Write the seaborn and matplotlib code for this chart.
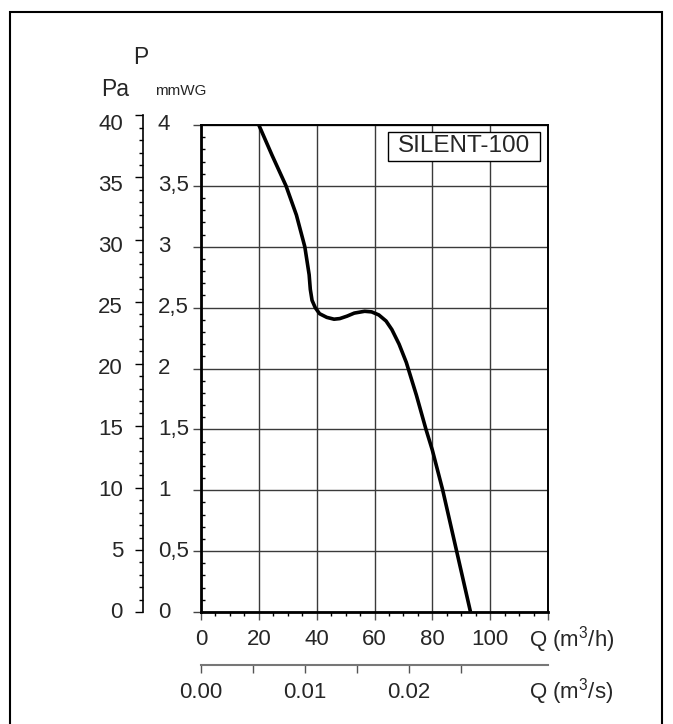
import matplotlib
matplotlib.use("Agg")
import matplotlib.pyplot as plt
import matplotlib.transforms as mtransforms
from matplotlib.patches import Rectangle
from matplotlib.ticker import MultipleLocator, FixedLocator
import pandas as pd
import seaborn as sns

# fan curve: flow in m3/h, pressure in mmWG
flow = [20.0, 24.6, 29.4, 33.0, 35.9, 37.4, 37.8, 38.4, 39.5, 41.0, 43.5, 46.0, 48.0,
        50.5, 53.0, 56.6, 59.0, 61.5, 64.0, 66.0, 68.5, 71.0, 74.5, 77.8, 80.0, 83.6,
        88.4, 93.2]
pressure = [4.00, 3.75, 3.50, 3.26, 3.00, 2.77, 2.65, 2.56, 2.50, 2.45, 2.42, 2.405, 2.41,
            2.43, 2.455, 2.47, 2.465, 2.44, 2.39, 2.32, 2.20, 2.05, 1.78, 1.50, 1.33, 1.00,
            0.50, 0.00]

mmwg_ticks = [0, 0.5, 1, 1.5, 2, 2.5, 3, 3.5, 4]
mmwg_labels = ["0", "0,5", "1", "1,5", "2", "2,5", "3", "3,5", "4"]
pa_labels = ["0", "5", "10", "15", "20", "25", "30", "35", "40"]
q_h_ticks = [0, 20, 40, 60, 80, 100, 120]
q_h_labels = ["0", "20", "40", "60", "80", "100", ""]
q_s_ticks = [0.0, 0.01, 0.02]
q_s_labels = ["0.00", "0.01", "0.02"]
model_name = "SILENT-100"

PA_PER_MMWG = 9.80665
FS = 16

sns.set_style("white")
plt.rcParams["font.family"] = ["Liberation Sans", "DejaVu Sans"]
plt.rcParams["mathtext.fontset"] = "custom"
plt.rcParams["mathtext.rm"] = "Liberation Sans"
plt.rcParams["mathtext.it"] = "Liberation Sans"

W, H = 673, 724
fig = plt.figure(figsize=(W / 100, H / 100), dpi=100)

def fx(px):
    return px / W

def fy(py):
    return 1 - py / H

left, right, top, bottom = 201, 548, 125, 612
ax = fig.add_axes([fx(left), fy(bottom), fx(right - left), (bottom - top) / H])

df = pd.DataFrame({"Q": flow, "P": pressure})
sns.lineplot(data=df, x="Q", y="P", ax=ax, color="black", linewidth=2.6,
             sort=False, estimator=None)
ax.lines[0].set_solid_joinstyle("round")
ax.lines[0].set_solid_capstyle("butt")

ax.set_xlim(0, 120)
ax.set_ylim(0, 4)
ax.set_xlabel("")
ax.set_ylabel("")

ax.xaxis.set_major_locator(FixedLocator(q_h_ticks))
ax.set_xticklabels(q_h_labels, fontsize=FS)
ax.xaxis.set_minor_locator(MultipleLocator(5))
ax.yaxis.set_major_locator(FixedLocator(mmwg_ticks))
ax.yaxis.set_minor_locator(MultipleLocator(0.1))
ax.tick_params(axis="y", which="major", labelleft=False, left=True,
               direction="out", length=6, width=1, color="#444444")
ax.tick_params(axis="y", which="minor", left=True, direction="in",
               length=3, width=1, color="black")
ax.tick_params(axis="x", which="major", bottom=True, direction="out",
               length=5.5, width=1, color="#555555", pad=7)
ax.tick_params(axis="x", which="minor", bottom=True, direction="out",
               length=3, width=1, color="black")

ax.grid(True, which="major", color="#3a3a3a", linewidth=1)
for side in ["left", "bottom"]:
    ax.spines[side].set_linewidth(2)
    ax.spines[side].set_color("black")
for side in ["top", "right"]:
    ax.spines[side].set_linewidth(1.4)
    ax.spines[side].set_color("black")

# mmWG and Pa labels share the grid rows
yfig = mtransforms.blended_transform_factory(fig.transFigure, ax.transData)
for v, lab in zip(mmwg_ticks, mmwg_labels):
    fig.text(fx(158), v, lab, transform=yfig, ha="left", va="center", fontsize=FS)
for v, lab in zip(mmwg_ticks, pa_labels):
    fig.text(fx(123), v, lab, transform=yfig, ha="right", va="center", fontsize=FS)

# Pa scale on a separate spine
pa_top = 4 * PA_PER_MMWG
pa_h = (bottom - top) / H * 40 / pa_top
ax_pa = fig.add_axes([fx(143), fy(bottom), 0.0001, pa_h])
ax_pa.set_ylim(0, 40)
ax_pa.set_facecolor("none")
for side in ["top", "right", "bottom"]:
    ax_pa.spines[side].set_visible(False)
ax_pa.spines["left"].set_linewidth(1.2)
ax_pa.spines["left"].set_color("black")
ax_pa.set_xticks([])
ax_pa.yaxis.set_major_locator(MultipleLocator(5))
ax_pa.yaxis.set_minor_locator(MultipleLocator(1))
ax_pa.tick_params(axis="y", which="major", left=True, direction="out", length=6,
                  width=1, labelleft=False, color="black")
ax_pa.tick_params(axis="y", which="minor", left=True, direction="out", length=3,
                  width=1, color="black")

# second flow scale in m3/s
sec = ax.secondary_xaxis("bottom", functions=(lambda q: q / 3600, lambda s: s * 3600))
sec.spines["bottom"].set_position(("outward", 38))
sec.spines["bottom"].set_color("#777777")
sec.spines["bottom"].set_linewidth(1.5)
sec.xaxis.set_major_locator(FixedLocator(q_s_ticks))
sec.set_xticklabels(q_s_labels, fontsize=FS)
sec.xaxis.set_minor_locator(FixedLocator([0.005, 0.015, 0.025]))
sec.tick_params(axis="x", which="both", bottom=True, direction="out", length=5.5,
                width=1, color="#555555", pad=7)

fig.text(fx(529), fy(640), "Q (m$^3$/h)", ha="left", va="center", fontsize=FS)
fig.text(fx(529), fy(692), "Q (m$^3$/s)", ha="left", va="center", fontsize=FS)

fig.text(fx(141), fy(58), "P", ha="center", va="center", fontsize=16.5)
fig.text(fx(115), fy(90), "Pa", ha="center", va="center", fontsize=16.5)
fig.text(fx(155), fy(91), "mmWG", ha="left", va="center", fontsize=11)

# model name box
bx0, bx1 = (388 - left) / (right - left), (540 - left) / (right - left)
by0, by1 = (bottom - 161) / (bottom - top), (bottom - 132) / (bottom - top)
ax.add_patch(Rectangle((bx0, by0), bx1 - bx0, by1 - by0, transform=ax.transAxes,
                       facecolor="white", edgecolor="black", linewidth=1, zorder=4))
ax.text((bx0 + bx1) / 2, (by0 + by1) / 2, model_name, transform=ax.transAxes,
        ha="center", va="center", fontsize=17.5, zorder=5)

fig.patches.append(Rectangle((fx(9.5), -0.05), fx(662 - 9.5), 1.05 - 12 / H,
                             transform=fig.transFigure, fill=False,
                             edgecolor="black", linewidth=1.5))

fig.savefig("out.png", dpi=100)
